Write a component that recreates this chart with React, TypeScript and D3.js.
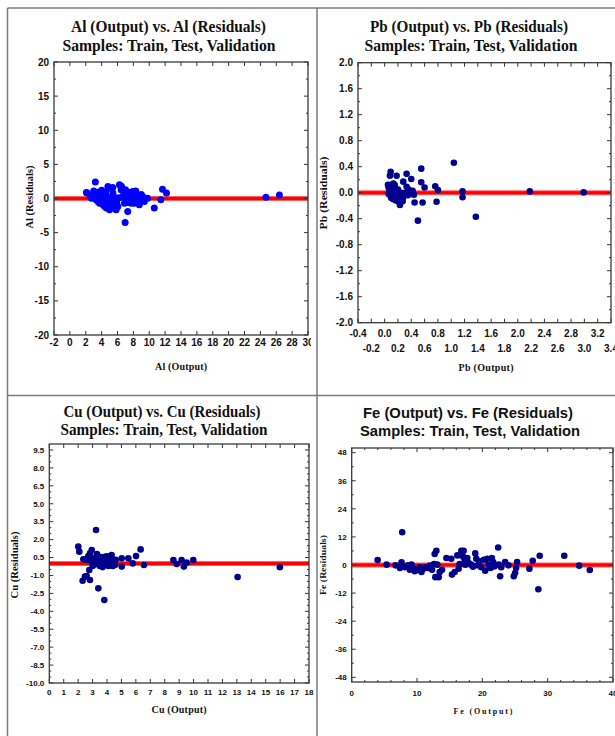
import React from 'react';
import * as d3 from 'd3';

// residual scatter data: [output, residual]
const alPoints: [number, number][] = [
  [2.08, 0.88], [3.21, 2.4], [2.17, 0.79], [2.71, 0.05], [2.92, 0.54], [3.33, 0.05],
  [3.54, -0.43], [3.75, -0.68], [4.08, 0.54], [4.38, -1.17], [4.58, -0.43], [4.79, 1.76],
  [5.0, -1.65], [5.21, 0.05], [5.42, 0.79], [5.63, -0.68], [5.83, -1.65], [6.04, -1.17],
  [6.25, 2.0], [6.46, 1.27], [6.67, 0.3], [6.88, -0.68], [7.29, -1.9], [7.08, -0.2],
  [7.5, 0.3], [7.71, -0.68], [7.92, 1.03], [8.33, -0.2], [8.54, 0.54], [8.75, -0.92],
  [9.17, 0.3], [9.38, -0.43], [9.79, 0.05], [10.63, -1.41], [6.96, -3.5], [11.46, -0.2],
  [11.67, 1.37], [12.17, 0.79], [3.0, 1.1], [3.5, 0.3], [3.8, -0.2], [4.0, 1.2],
  [4.2, -0.9], [4.4, 0.6], [4.6, -1.4], [4.8, 0.2], [5.0, 1.5], [5.2, -0.4],
  [5.4, 1.6], [5.6, 0.2], [4.3, -0.1], [3.9, 0.8], [3.3, -0.2], [2.6, 0.3],
  [6.5, 1.8], [6.8, 0.6], [7.0, 1.3], [7.2, -0.6], [7.4, 0.9], [7.6, -0.3],
  [7.8, 0.5], [8.1, -0.7], [8.3, 1.1], [8.8, 0.2], [9.0, 0.6], [5.9, -0.6],
  [6.2, 0.1], [4.7, -0.7], [4.1, 0.1], [3.6, 0.9], [7.3, 0.1], [8.6, -0.3],
  [4.5, 0.9], [5.3, -1.0], [24.7, 0.2], [26.4, 0.5],
];

const pbPoints: [number, number][] = [
  [0.05, 0.12], [0.06, 0.08], [0.07, 0.05], [0.08, 0.02], [0.06, -0.02], [0.09, -0.05],
  [0.1, 0.1], [0.11, 0.06], [0.12, 0.0], [0.1, -0.08], [0.13, -0.1], [0.14, 0.04],
  [0.15, -0.03], [0.16, 0.08], [0.17, -0.12], [0.18, 0.02], [0.19, -0.06], [0.2, 0.05],
  [0.21, -0.14], [0.22, -0.02], [0.23, -0.19], [0.24, -0.1], [0.25, 0.0], [0.27, -0.13],
  [0.28, -0.07], [0.09, 0.32], [0.08, 0.26], [0.18, 0.26], [0.33, 0.29], [0.28, 0.17],
  [0.4, 0.21], [0.55, 0.37], [0.55, 0.16], [0.6, 0.08], [0.76, 0.1], [0.8, 0.04],
  [0.33, 0.09], [0.36, 0.05], [0.38, 0.02], [0.4, -0.01], [0.42, 0.03], [0.44, -0.03],
  [0.31, 0.0], [0.35, -0.04], [0.45, -0.15], [0.57, -0.15], [0.5, -0.43], [0.78, -0.14],
  [1.04, 0.46], [1.17, 0.02], [1.17, -0.07], [1.37, -0.37], [2.18, 0.02], [2.99, 0.005],
  [0.13, 0.14], [0.07, 0.1], [0.2, -0.09], [0.15, 0.12], [0.26, -0.04], [0.12, -0.05],
];

const cuPoints: [number, number][] = [
  [2.01, 1.41], [2.08, 0.99], [3.24, 2.8], [2.36, 0.35], [2.59, 0.29], [2.82, 0.85],
  [2.94, 1.13], [3.05, 0.43], [3.28, 0.57], [3.4, 0.15], [3.51, 0.57], [3.63, 0.01],
  [3.74, 0.29], [3.86, 0.57], [3.97, 0.15], [4.09, 0.43], [4.21, 0.01], [4.32, 0.71],
  [4.44, 0.29], [4.55, -0.12], [5.02, 0.43], [5.02, -0.26], [5.48, 0.43], [5.78, 0.01],
  [6.01, 0.62], [6.33, 1.18], [6.56, -0.12], [2.77, -0.54], [2.47, -1.1], [2.59, -1.05],
  [2.31, -1.44], [2.82, -1.38], [3.4, -2.08], [3.81, -3.05], [8.6, 0.29], [8.83, -0.04],
  [9.17, 0.29], [9.33, -0.26], [9.52, 0.07], [9.98, 0.29], [13.05, -1.13], [15.98, -0.32],
  [3.0, -0.2], [3.2, 0.1], [3.3, 0.8], [3.6, 0.5], [3.9, -0.1], [4.0, 0.6],
  [4.3, 0.2], [4.6, 0.3], [3.1, -0.1], [2.7, 0.6], [4.1, -0.2], [3.5, -0.2],
  [2.9, 0.2], [3.7, -0.3], [4.4, -0.2],
];

const fePoints: [number, number][] = [
  [3.97, 2.1], [5.34, 0.14], [6.7, -0.14], [7.73, 14.0], [7.63, 1.13], [7.37, -1.27],
  [8.13, -0.99], [8.64, -0.14], [8.9, -1.98], [9.15, 0.14], [9.4, -1.27], [9.66, -2.68],
  [10.17, -1.98], [10.42, -0.99], [10.68, -2.97], [10.93, -1.7], [11.19, -0.99], [11.69, -1.27],
  [11.95, -0.28], [12.3, -2.0], [12.6, 0.4], [12.7, 4.67], [12.96, 6.1], [12.81, -5.2],
  [13.32, -5.2], [13.1, 0.14], [13.47, -2.97], [13.83, -2.0], [14.5, 2.97], [15.25, 2.69],
  [15.35, -4.1], [15.76, -2.97], [16.17, 4.1], [16.37, -1.56], [16.52, 0.42], [16.78, 6.1],
  [17.03, 3.68], [17.13, 6.1], [17.29, 2.27], [17.39, 0.14], [17.54, 1.56], [17.69, 2.97],
  [17.9, 0.85], [18.3, 0.14], [18.56, -0.71], [18.91, 4.96], [19.07, 2.69], [19.32, -0.14],
  [19.57, 1.56], [19.83, -0.99], [20.23, 2.27], [20.44, -2.41], [20.74, 2.69], [20.95, 0.14],
  [21.25, -1.27], [21.45, 2.97], [21.66, 1.27], [21.86, -0.57], [22.42, 7.5], [22.52, 0.14],
  [22.72, -4.82], [22.88, -0.99], [23.49, 1.27], [24.0, -0.14], [24.81, -4.82], [25.01, -3.4],
  [25.17, -1.27], [25.32, 1.27], [27.2, -1.56], [27.71, 1.84], [28.57, -10.34], [28.78, 3.97],
  [32.54, 3.97], [34.82, -0.28], [36.45, -2.12],
];

// tick labels
const alXTicks = [-2, 0, 2, 4, 6, 8, 10, 12, 14, 16, 18, 20, 22, 24, 26, 28, 30];
const alYTicks = [20, 15, 10, 5, 0, -5, -10, -15, -20];
const pbXTicksTop = [-0.4, 0.0, 0.4, 0.8, 1.2, 1.6, 2.0, 2.4, 2.8, 3.2];
const pbXTicksBottom = [-0.2, 0.2, 0.6, 1.0, 1.4, 1.8, 2.2, 2.6, 3.0, 3.4];
const pbYTicks = [2.0, 1.6, 1.2, 0.8, 0.4, 0.0, -0.4, -0.8, -1.2, -1.6, -2.0];
const cuXTicks = [0, 1, 2, 3, 4, 5, 6, 7, 8, 9, 10, 11, 12, 13, 14, 15, 16, 17, 18];
const cuYTicks = [9.5, 8.0, 6.5, 5.0, 3.5, 2.0, 0.5, -1.0, -2.5, -4.0, -5.5, -7.0, -8.5, -10.0];
const feXTicks = [0, 10, 20, 30, 40];
const feYTicks = [48, 36, 24, 12, 0, -12, -24, -36, -48];

const SERIF = '"Liberation Serif", "Times New Roman", serif';
const SANS = '"Liberation Sans", Arial, sans-serif';

interface TextSpec {
  text: string;
  x: number;
  y: number;
  len: number;
}

interface PanelProps {
  id: string;
  points: [number, number][];
  color: string;
  r: number;
  xDomain: [number, number];
  yDomain: [number, number];
  box: { left: number; right: number; top: number; bottom: number };
  xRows: { ticks: number[]; y: number }[];
  yTicks: number[];
  xMinor: number[];
  yMinor: number[];
  fmtX: (v: number) => string;
  fmtY: (v: number) => string;
  tickSize: number;
  titleFont: string;
  titleSize: number;
  titles: TextSpec[];
  xTitle: TextSpec;
  yTitle: TextSpec;
  axisTitleSize: number;
  clip?: { x: number; y: number; w: number; h: number };
}

function Panel(p: PanelProps) {
  const x = d3.scaleLinear().domain(p.xDomain).range([p.box.left, p.box.right]);
  const y = d3.scaleLinear().domain(p.yDomain).range([p.box.bottom, p.box.top]);
  const { left, right, top, bottom } = p.box;
  const major = 4;
  const minor = 2;
  const allX = [...p.xRows.flatMap((r) => r.ticks)];

  return (
    <g clipPath={p.clip ? `url(#clip-${p.id})` : undefined}>
      {p.clip && (
        <defs>
          <clipPath id={`clip-${p.id}`}>
            <rect x={p.clip.x} y={p.clip.y} width={p.clip.w} height={p.clip.h} />
          </clipPath>
        </defs>
      )}
      {p.titles.map((t, i) => (
        <text
          key={i}
          x={t.x}
          y={t.y}
          textAnchor="middle"
          fontFamily={p.titleFont}
          fontWeight="bold"
          fontSize={p.titleSize}
          textLength={t.len}
          lengthAdjust="spacingAndGlyphs"
          fill="#111"
        >
          {t.text}
        </text>
      ))}

      <rect x={left} y={top} width={right - left} height={bottom - top} fill="#fff" />

      {/* zero residual line */}
      <line x1={left} x2={right} y1={y(0)} y2={y(0)} stroke="#ff6060" strokeWidth={5} />
      <line x1={left} x2={right} y1={y(0)} y2={y(0)} stroke="#ff0000" strokeWidth={3} />

      {p.points.map(([px, py], i) => (
        <circle key={i} cx={x(px)} cy={y(py)} r={p.r} fill={p.color} />
      ))}

      {/* inward ticks on all four sides */}
      <g stroke="#333" strokeWidth={1}>
        {allX.map((v, i) => (
          <g key={'xm' + i}>
            <line x1={x(v)} x2={x(v)} y1={bottom} y2={bottom - major} />
            <line x1={x(v)} x2={x(v)} y1={top} y2={top + major} />
          </g>
        ))}
        {p.xMinor.map((v, i) => (
          <g key={'xn' + i}>
            <line x1={x(v)} x2={x(v)} y1={bottom} y2={bottom - minor} />
            <line x1={x(v)} x2={x(v)} y1={top} y2={top + minor} />
          </g>
        ))}
        {p.yTicks.map((v, i) => (
          <g key={'ym' + i}>
            <line x1={left} x2={left + major} y1={y(v)} y2={y(v)} />
            <line x1={right} x2={right - major} y1={y(v)} y2={y(v)} />
          </g>
        ))}
        {p.yMinor.map((v, i) => (
          <g key={'yn' + i}>
            <line x1={left} x2={left + minor} y1={y(v)} y2={y(v)} />
            <line x1={right} x2={right - minor} y1={y(v)} y2={y(v)} />
          </g>
        ))}
      </g>

      <rect
        x={left}
        y={top}
        width={right - left}
        height={bottom - top}
        fill="none"
        stroke="#3a3a3a"
        strokeWidth={1.3}
      />

      <g fontFamily={SANS} fontWeight="bold" fontSize={p.tickSize} fill="#111">
        {p.yTicks.map((v, i) => (
          <text key={'yl' + i} x={left - 5} y={y(v)} dy="0.35em" textAnchor="end">
            {p.fmtY(v)}
          </text>
        ))}
        {p.xRows.map((row, ri) =>
          row.ticks.map((v, i) => (
            <text key={'xl' + ri + '-' + i} x={x(v)} y={row.y} dy="0.35em" textAnchor="middle">
              {p.fmtX(v)}
            </text>
          ))
        )}
      </g>

      <text
        x={p.xTitle.x}
        y={p.xTitle.y}
        dy="0.35em"
        textAnchor="middle"
        fontFamily={SERIF}
        fontWeight="bold"
        fontSize={p.axisTitleSize}
        textLength={p.xTitle.len}
        lengthAdjust="spacing"
        fill="#111"
      >
        {p.xTitle.text}
      </text>
      <text
        transform={`translate(${p.yTitle.x},${p.yTitle.y}) rotate(-90)`}
        dy="0.35em"
        textAnchor="middle"
        fontFamily={SERIF}
        fontWeight="bold"
        fontSize={p.axisTitleSize}
        textLength={p.yTitle.len}
        lengthAdjust="spacingAndGlyphs"
        fill="#111"
      >
        {p.yTitle.text}
      </text>
    </g>
  );
}

const f0 = (v: number) => String(v);
const f1 = (v: number) => v.toFixed(1);

export default function App() {
  return (
    <svg
      width={615}
      height={736}
      style={{ position: 'absolute', left: 0, top: 0, background: '#fff' }}
    >
      <rect x={0} y={0} width={615} height={736} fill="#fff" />

      <Panel
        id="al"
        points={alPoints}
        color="#0000ff"
        r={3.5}
        xDomain={[-2, 30]}
        yDomain={[-20, 20]}
        box={{ left: 54, right: 308, top: 62, bottom: 335 }}
        xRows={[{ ticks: alXTicks, y: 342 }]}
        yTicks={alYTicks}
        xMinor={[]}
        yMinor={d3.range(-17.5, 20, 5)}
        fmtX={f0}
        fmtY={f0}
        tickSize={10}
        titleFont={SERIF}
        titleSize={17}
        titles={[
          { text: 'Al (Output) vs. Al (Residuals)', x: 168.5, y: 32, len: 195 },
          { text: 'Samples: Train, Test, Validation', x: 169, y: 51, len: 213 },
        ]}
        xTitle={{ text: 'Al (Output)', x: 181, y: 366, len: 52 }}
        yTitle={{ text: 'Al (Residuals)', x: 29, y: 197, len: 63 }}
        axisTitleSize={10}
        clip={{ x: 0, y: 0, w: 311, h: 395 }}
      />

      <Panel
        id="pb"
        points={pbPoints}
        color="#00008c"
        r={3.3}
        xDomain={[-0.4, 3.4]}
        yDomain={[-2, 2]}
        box={{ left: 358, right: 611, top: 62.7, bottom: 322.7 }}
        xRows={[
          { ticks: pbXTicksTop, y: 333.5 },
          { ticks: pbXTicksBottom, y: 348.5 },
        ]}
        yTicks={pbYTicks}
        xMinor={[]}
        yMinor={d3.range(-1.8, 2, 0.4)}
        fmtX={f1}
        fmtY={f1}
        tickSize={10}
        titleFont={SERIF}
        titleSize={17}
        titles={[
          { text: 'Pb (Output) vs. Pb (Residuals)', x: 469, y: 31.5, len: 198 },
          { text: 'Samples: Train, Test, Validation', x: 471, y: 50.5, len: 213 },
        ]}
        xTitle={{ text: 'Pb (Output)', x: 486, y: 367, len: 55 }}
        yTitle={{ text: 'Pb (Residuals)', x: 323, y: 193, len: 73 }}
        axisTitleSize={10}
      />

      <Panel
        id="cu"
        points={cuPoints}
        color="#00008c"
        r={3.3}
        xDomain={[0, 18]}
        yDomain={[-10, 10]}
        box={{ left: 49.3, right: 309, top: 444, bottom: 683 }}
        xRows={[{ ticks: cuXTicks, y: 692 }]}
        yTicks={cuYTicks}
        xMinor={[]}
        yMinor={d3.range(-9.5, 9.6, 0.5).filter((v) => !cuYTicks.some((t) => Math.abs(t - v) < 1e-6))}
        fmtX={f0}
        fmtY={f1}
        tickSize={8}
        titleFont={SERIF}
        titleSize={17}
        titles={[
          { text: 'Cu (Output) vs. Cu (Residuals)', x: 162, y: 416.5, len: 197 },
          { text: 'Samples: Train, Test, Validation', x: 164, y: 434.5, len: 207 },
        ]}
        xTitle={{ text: 'Cu (Output)', x: 179, y: 709, len: 55 }}
        yTitle={{ text: 'Cu (Residuals)', x: 14, y: 565, len: 67 }}
        axisTitleSize={10}
        clip={{ x: 0, y: 396, w: 316, h: 340 }}
      />

      <Panel
        id="fe"
        points={fePoints}
        color="#00008c"
        r={3.3}
        xDomain={[0, 40]}
        yDomain={[-50, 50]}
        box={{ left: 351.7, right: 613, top: 448, bottom: 682 }}
        xRows={[{ ticks: feXTicks, y: 693 }]}
        yTicks={feYTicks}
        xMinor={d3.range(2, 40, 2).filter((v) => v % 10 !== 0)}
        yMinor={d3.range(-42, 48, 12)}
        fmtX={f0}
        fmtY={f0}
        tickSize={8}
        titleFont={SANS}
        titleSize={15}
        titles={[
          { text: 'Fe (Output) vs. Fe (Residuals)', x: 468, y: 417.5, len: 210 },
          { text: 'Samples: Train, Test, Validation', x: 470, y: 435.5, len: 220 },
        ]}
        xTitle={{ text: 'Fe (Output)', x: 483, y: 711, len: 59 }}
        yTitle={{ text: 'Fe (Residuals)', x: 323, y: 565, len: 60 }}
        axisTitleSize={8}
      />

      {/* panel grid */}
      <g stroke="#7a7a7a" strokeWidth={1.5} fill="none">
        <line x1={7.5} x2={615} y1={8} y2={8} />
        <line x1={7.5} x2={7.5} y1={8} y2={736} />
        <line x1={317} x2={317} y1={8} y2={736} />
        <line x1={7.5} x2={615} y1={395.5} y2={395.5} />
      </g>
    </svg>
  );
}
